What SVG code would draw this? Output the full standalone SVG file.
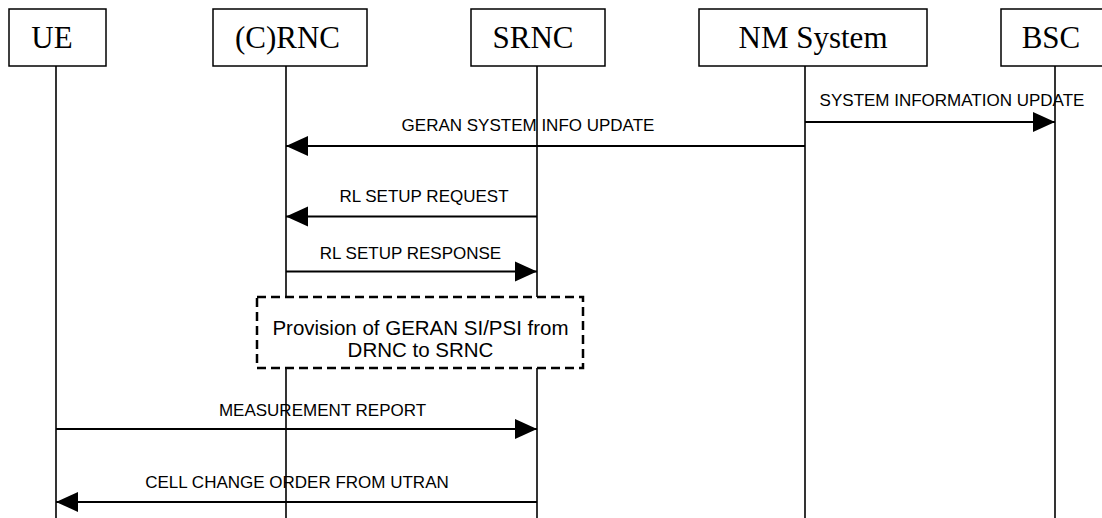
<svg xmlns="http://www.w3.org/2000/svg" width="1102" height="518" viewBox="0 0 1102 518">
<style>
.box{fill:#fff;stroke:#000;stroke-width:1.5}
.life{stroke:#000;stroke-width:1.6;fill:none}
.title{font-family:"Liberation Serif","Times New Roman",serif;font-size:31px;fill:#000;text-anchor:middle}
.msg{stroke:#000;stroke-width:2;fill:none;marker-end:url(#ah)}
.lbl{font-family:"Liberation Sans",Arial,sans-serif;font-size:17px;fill:#000;text-anchor:middle}
.note{fill:#fff;stroke:#000;stroke-width:2.5;stroke-dasharray:9,5}
.ntxt{font-family:"Liberation Sans",Arial,sans-serif;font-size:20.5px;fill:#000;text-anchor:middle}
</style>
<defs>
<marker id="ah" markerUnits="userSpaceOnUse" markerWidth="22" markerHeight="22" viewBox="0 0 20 20" refX="20" refY="10" orient="auto">
<path d="M0,1 L20,10 L0,19 Z" fill="#000"/>
</marker>
</defs>
<rect width="1102" height="518" fill="#fff"/>
<g id="lifelines">
<line class="life" x1="56" y1="66" x2="56" y2="518"/>
<line class="life" x1="286" y1="66" x2="286" y2="518"/>
<line class="life" x1="537" y1="66" x2="537" y2="518"/>
<line class="life" x1="805" y1="66" x2="805" y2="518"/>
<line class="life" x1="1055" y1="66" x2="1055" y2="518"/>
</g>
<g id="UE"><rect class="box" x="9" y="9" width="97" height="57"/><text class="title" x="52" y="48">UE</text></g>
<g id="CRNC"><rect class="box" x="213" y="9" width="154" height="57"/><text class="title" x="287.5" y="48">(C)RNC</text></g>
<g id="SRNC"><rect class="box" x="471" y="9" width="134" height="57"/><text class="title" x="533" y="48">SRNC</text></g>
<g id="NM"><rect class="box" x="699" y="9" width="228" height="57"/><text class="title" x="813" y="48">NM System</text></g>
<g id="BSC"><rect class="box" x="1001" y="9" width="108" height="57"/><text class="title" x="1051" y="48">BSC</text></g>
<g id="connectors">
<line class="msg" x1="805" y1="122" x2="1055" y2="122"/>
<text class="lbl" x="952" y="106">SYSTEM INFORMATION UPDATE</text>
<line class="msg" x1="805" y1="146" x2="286" y2="146"/>
<text class="lbl" x="528" y="131">GERAN SYSTEM INFO UPDATE</text>
<line class="msg" x1="537" y1="216.5" x2="286" y2="216.5"/>
<text class="lbl" x="424" y="202">RL SETUP REQUEST</text>
<line class="msg" x1="286" y1="271.5" x2="537" y2="271.5"/>
<text class="lbl" x="410.5" y="258.5">RL SETUP RESPONSE</text>
<line class="msg" x1="56" y1="429" x2="537" y2="429"/>
<text class="lbl" x="322.5" y="416">MEASUREMENT REPORT</text>
<line class="msg" x1="537" y1="502" x2="56" y2="502"/>
<text class="lbl" x="297" y="488">CELL CHANGE ORDER FROM UTRAN</text>
</g>
<g id="provision">
<rect class="note" x="257" y="297" width="326" height="71"/>
<text class="ntxt" x="420.5" y="335">Provision of GERAN SI/PSI from</text>
<text class="ntxt" x="420.5" y="357">DRNC to SRNC</text>
</g>
</svg>
